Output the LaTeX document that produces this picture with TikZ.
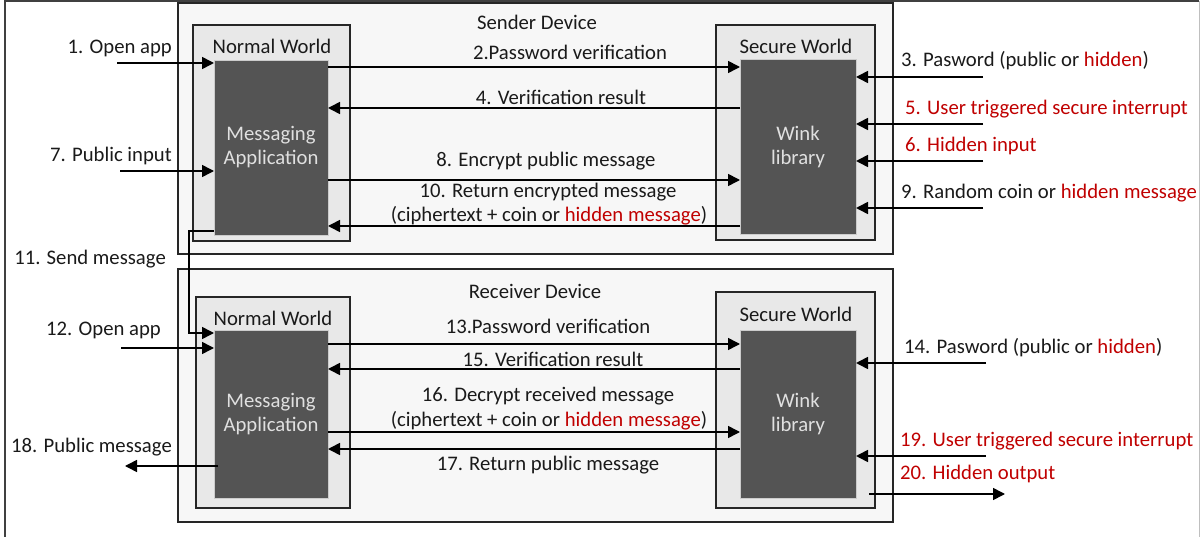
\documentclass[tikz,border=0pt]{standalone}
\usepackage{fontspec}
\setmainfont{Carlito}
\usetikzlibrary{arrows.meta,calc}
\definecolor{hid}{HTML}{C00000}
\definecolor{txt}{HTML}{1A1A1A}
\begin{document}
\begin{tikzpicture}[x=1pt,y=-1pt,
  device/.style={draw=black!85, line width=1.6pt, fill=black!3, inner sep=0pt, outer sep=0pt},
  world/.style={draw=black!85, line width=1.6pt, fill=black!9, inner sep=0pt, outer sep=0pt},
  core/.style={draw=black!20, line width=0.8pt, fill=black!67, text=white!88!black, align=center,
    font=\fontsize{20.7}{24}\selectfont, inner sep=0pt, outer sep=0pt},
  lbl/.style={font=\fontsize{20.7}{24}\selectfont, text=txt, inner sep=0pt},
  red/.style={lbl, text=hid},
  arr/.style={line width=1.6pt, draw=black, -{Triangle[length=12pt,width=12pt]}}
]
\useasboundingbox (0,0) rectangle (1203,537);
\fill[white] (0,0) rectangle (1203,537);
% outer frame
\draw[black!75, line width=1.5pt] (5,537) -- (5,1) -- (1199,1);
\draw[black!25, line width=1pt] (1199,1) -- (1199,537);

% ---------- Sender device ----------
\node[device, minimum width=715pt, minimum height=251pt] (snd) at (535.5,128.5) {};
\node[world, minimum width=157pt, minimum height=216pt] (nw1) at (271.5,133) {};
\node[world, minimum width=159pt, minimum height=215pt] (sw1) at (795.5,132.5) {};
\node[core, minimum width=114pt, minimum height=175pt] (app1) at (271,147.5) {Messaging\\Application};
\node[core, minimum width=116pt, minimum height=175pt] (wink1) at (798,146.5) {Wink\\library};
\node[lbl] (sndT) at (537,22) {Sender Device};
\node[lbl] (nw1T) at (272,46) {Normal World};
\node[lbl] (sw1T) at (796,46) {Secure World};

% ---------- Receiver device ----------
\node[device, minimum width=715pt, minimum height=253pt] (rcv) at (535.5,395.5) {};
\node[world, minimum width=154pt, minimum height=211pt] (nw2) at (273,402.5) {};
\node[world, minimum width=159pt, minimum height=216pt] (sw2) at (795.5,400) {};
\node[core, minimum width=114pt, minimum height=168pt] (app2) at (271,414) {Messaging\\Application};
\node[core, minimum width=116pt, minimum height=168pt] (wink2) at (798,414) {Wink\\library};
\node[lbl] (rcvT) at (535,291) {Receiver Device};
\node[lbl] (nw2T) at (273,318) {Normal World};
\node[lbl] (sw2T) at (796,314) {Secure World};

% ---------- free ends ----------
\coordinate (in1) at (117,63);
\coordinate (in7) at (120,171);
\coordinate (in3) at (983,77);
\coordinate (in5) at (983,124);
\coordinate (in6) at (983,161);
\coordinate (in9) at (983,208);
\coordinate (bend) at (189,333);
\coordinate (in12) at (121,348);
\coordinate (out18) at (125,466);
\coordinate (in14) at (986,363);
\coordinate (in19) at (986,456);
\coordinate (out20) at (1005,494);

% ---------- Sender connectors ----------
\draw[arr] (in1) -- (app1.west |- in1);
\draw[arr] (in7) -- (app1.west |- in7);
\draw[arr] (app1.east |- 0,67) -- (wink1.west |- 0,67);
\draw[arr] (wink1.west |- 0,108) -- (app1.east |- 0,108);
\draw[arr] (app1.east |- 0,180) -- (wink1.west |- 0,180);
\draw[arr] (wink1.west |- 0,226) -- (app1.east |- 0,226);
\draw[arr] (in3) -- (wink1.east |- in3);
\draw[arr] (in5) -- (wink1.east |- in5);
\draw[arr] (in6) -- (wink1.east |- in6);
\draw[arr] (in9) -- (wink1.east |- in9);
\draw[arr] (app1.west |- 0,231) -| (bend) -- (app2.west |- bend);

% ---------- Receiver connectors ----------
\draw[arr] (in12) -- (app2.west |- in12);
\draw[arr] ($(app2.west |- out18)+(4,0)$) -- (out18);
\draw[arr] (app2.east |- 0,344) -- (wink2.west |- 0,344);
\draw[arr] (wink2.west |- 0,369) -- (app2.east |- 0,369);
\draw[arr] (app2.east |- 0,432) -- (wink2.west |- 0,432);
\draw[arr] (wink2.west |- 0,449) -- (app2.east |- 0,449);
\draw[arr] (in14) -- (wink2.east |- in14);
\draw[arr] (in19) -- (wink2.east |- in19);
\draw[arr] ($(sw2.east |- out20)+(-6,0)$) -- (out20);

% ---------- Labels ----------
\node[lbl, anchor=east] (l1) at (172,48) {1. Open app};
\node[lbl, anchor=east] (l7) at (172,156) {7. Public input};
\node[lbl] (l2) at (570,52) {2.Password verification};
\node[lbl] (l4) at (561,97) {4. Verification result};
\node[lbl] (l8) at (546,161) {8. Encrypt public message};
\node[lbl] (l10) at (548,192) {10. Return encrypted message};
\node[lbl] (l10b) at (549,216) {(ciphertext + coin or \textcolor{hid}{hidden message})};
\node[lbl, anchor=west] (l3) at (901,61) {3. Pasword (public or \textcolor{hid}{hidden})};
\node[red, anchor=west] (l5) at (905,109) {5. User triggered secure interrupt};
\node[red, anchor=west] (l6) at (905,146) {6. Hidden input};
\node[lbl, anchor=west] (l9) at (901,193) {9. Random coin or \textcolor{hid}{hidden message}};
\node[lbl, anchor=east] (l11) at (166,259) {11. Send message};
\node[lbl, anchor=east] (l12) at (161,330) {12. Open app};
\node[lbl, anchor=east] (l18) at (172,447) {18. Public message};
\node[lbl] (l13) at (548,326) {13.Password verification};
\node[lbl] (l15) at (553,359) {15. Verification result};
\node[lbl] (l16) at (548,396) {16. Decrypt received message};
\node[lbl] (l16b) at (549,421) {(ciphertext + coin or \textcolor{hid}{hidden message})};
\node[lbl] (l17) at (548,465) {17. Return public message};
\node[lbl, anchor=west] (l14) at (904,348) {14. Pasword (public or \textcolor{hid}{hidden})};
\node[red, anchor=west] (l19) at (900,441) {19. User triggered secure interrupt};
\node[red, anchor=west] (l20) at (900,474) {20. Hidden output};
\end{tikzpicture}
\end{document}
